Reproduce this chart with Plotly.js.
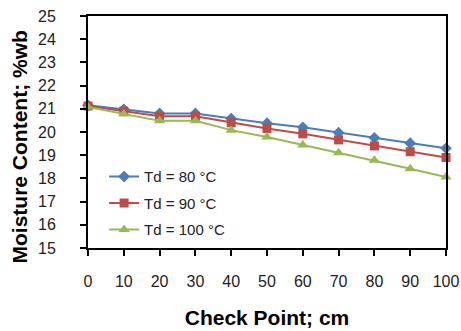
<!DOCTYPE html>
<html>
<head>
<meta charset="utf-8">
<script src="https://cdn.plot.ly/plotly-3.0.1.min.js"></script>
<style>html,body{margin:0;padding:0;background:#fff;}#chart{width:461px;height:331px;}</style>
</head>
<body>
<div id="chart"></div>
<script>
const checkPoints = [0, 10, 20, 30, 40, 50, 60, 70, 80, 90, 100];
const seriesNames = ["Td = 80 °C", "Td = 90 °C", "Td = 100 °C"];
const td80 = [21.15, 20.98, 20.8, 20.8, 20.58, 20.38, 20.2, 19.97, 19.75, 19.52, 19.3];
const td90 = [21.12, 20.9, 20.68, 20.68, 20.4, 20.15, 19.92, 19.66, 19.4, 19.15, 18.9];
const td100 = [21.08, 20.78, 20.48, 20.48, 20.08, 19.78, 19.44, 19.11, 18.78, 18.42, 18.06];
const xTitle = "Check Point; cm";
const yTitle = "Moisture Content; %wb";

const colors = ["#4A7EBB", "#BE4B48", "#98B954"];
const symbols = ["diamond", "square", "triangle-up"];
const sizes = [9, 9, 10];
const allSeries = [td80, td90, td100];

const traces = allSeries.map((vals, i) => ({
  x: checkPoints,
  y: vals,
  name: seriesNames[i],
  legendgroup: "g" + i,
  type: "scatter",
  mode: "lines+markers",
  line: {color: colors[i], width: 2},
  marker: {symbol: symbols[i], size: sizes[i], color: colors[i]},
  cliponaxis: false
}));

const fam = "Liberation Sans, Arial, sans-serif";
const tickFont = {family: fam, size: 16, color: "#222"};
const titleFont = {family: fam, size: 21, color: "#000", weight: "bold"};

const layout = {
  width: 461, height: 331,
  margin: {l: 88, r: 15, t: 16, b: 83},
  paper_bgcolor: "#fff", plot_bgcolor: "#fff",
  showlegend: true,
  legend: {
    x: 0.045, y: 0.378, xanchor: "left", yanchor: "top",
    font: {family: fam, size: 15, color: "#222"},
    bgcolor: "rgba(0,0,0,0)", tracegroupgap: 4
  },
  xaxis: {
    range: [0, 100], dtick: 10, tick0: 0,
    ticks: "outside", ticklen: 6, tickwidth: 2, tickcolor: "#000",
    showline: true, linecolor: "#000", linewidth: 2, mirror: true,
    showgrid: false, zeroline: false,
    tickfont: tickFont, ticklabelstandoff: 12,
    title: {text: xTitle, font: titleFont, standoff: 21}
  },
  yaxis: {
    range: [15, 25], dtick: 1, tick0: 15,
    ticks: "outside", ticklen: 6, tickwidth: 2, tickcolor: "#000",
    showline: true, linecolor: "#000", linewidth: 2, mirror: true,
    showgrid: false, zeroline: false,
    tickfont: tickFont, ticklabelstandoff: 21
  },
  annotations: [{
    text: "<b>" + yTitle + "</b>",
    xref: "paper", yref: "paper",
    x: (19 - 88) / 358, y: (248 - 147.5) / 232,
    xanchor: "center", yanchor: "middle",
    textangle: -90, showarrow: false,
    font: titleFont
  }]
};

Plotly.newPlot("chart", traces, layout, {displayModeBar: false, staticPlot: true});
</script>
</body>
</html>
